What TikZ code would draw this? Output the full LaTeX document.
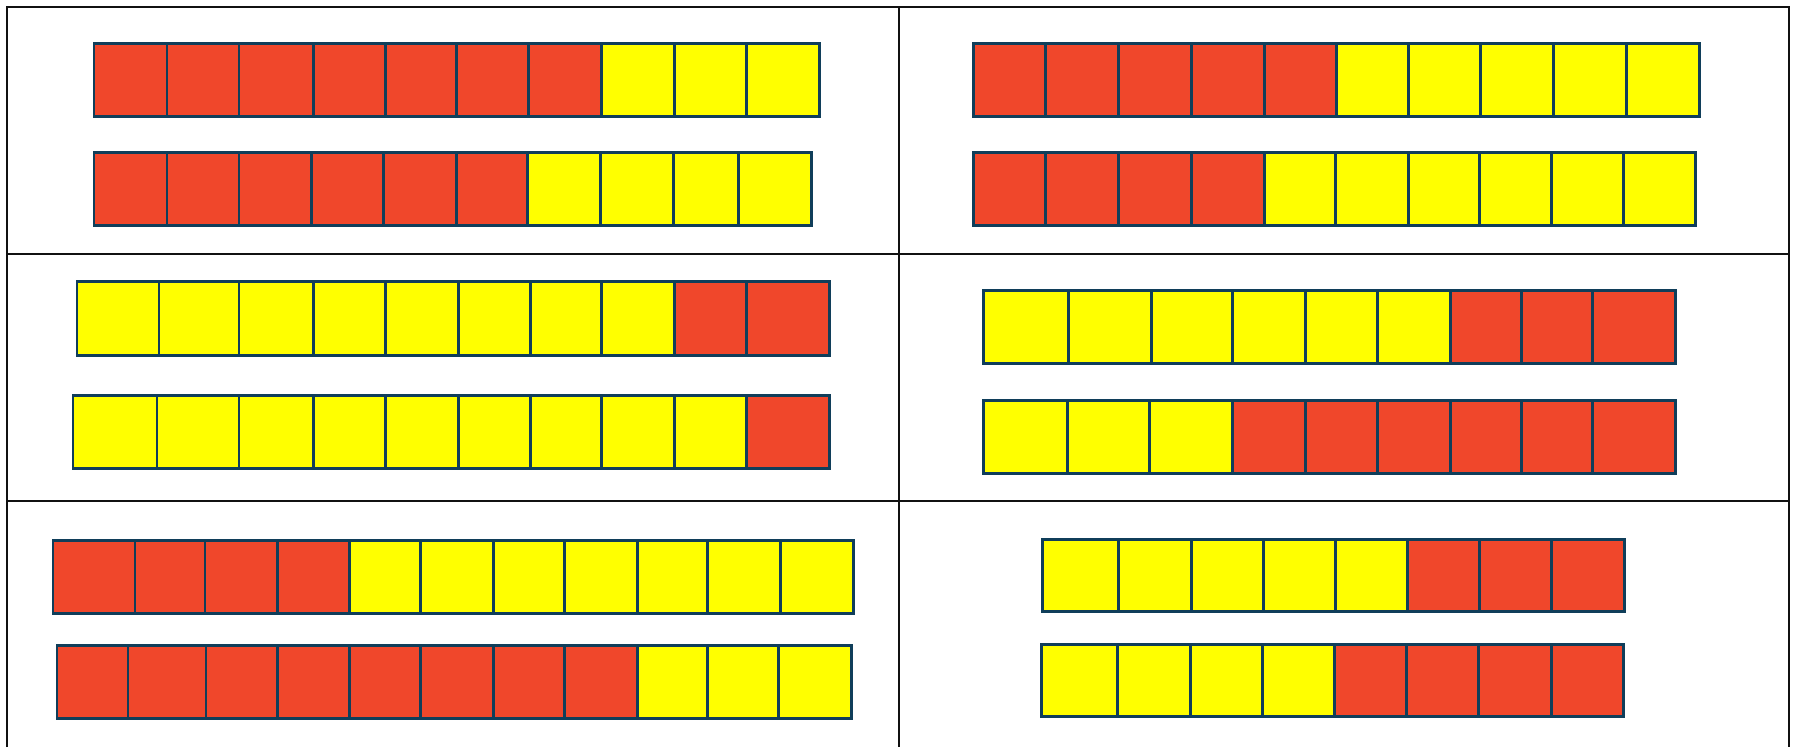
\documentclass[tikz,border=0pt]{standalone}
\usepackage{tikz}
\definecolor{cubeRed}{HTML}{F0472B}
\definecolor{cubeYel}{HTML}{FFFF00}
\definecolor{cubeEdge}{HTML}{103E5A}
\definecolor{gridLine}{HTML}{111111}
\tikzset{
  cube/.style={draw=cubeEdge, line width=0.85pt, line join=miter},
  grid/.style={draw=gridLine, line width=0.65pt},
}
% one row of cubes: start x, top y, bottom y, list of right edge/colour
\newcommand{\cuberow}[4]{%
  \foreach \xb/\cubecol [remember=\xb as \xa (initially #1)] in {#4} {
    \draw[cube, fill=\cubecol] (\xa,#2) rectangle (\xb,#3);
  }%
}

\begin{document}
\begin{tikzpicture}[x=0.01cm, y=-0.01cm]
  \useasboundingbox (0,0) rectangle (1795,747);

  % Table
  \draw[grid] (7,747) -- (7,7) -- (1789,7) -- (1789,747);
  \draw[grid] (899,7) -- (899,747);
  \draw[grid] (7,254) -- (1789,254);
  \draw[grid] (7,501) -- (1789,501);

  % Row 1, left
  \cuberow{94}{43}{116}{167/cubeRed, 239/cubeRed, 313/cubeRed, 385/cubeRed, 456/cubeRed, 528/cubeRed, 601/cubeRed, 674/cubeYel, 746/cubeYel, 819/cubeYel}
  \cuberow{94}{152}{225}{167/cubeRed, 239/cubeRed, 311/cubeRed, 383/cubeRed, 456/cubeRed, 527/cubeRed, 600/cubeYel, 673/cubeYel, 738/cubeYel, 811/cubeYel}

  % Row 1, right
  \cuberow{973}{43}{116}{1045/cubeRed, 1118/cubeRed, 1191/cubeRed, 1264/cubeRed, 1336/cubeRed, 1408/cubeYel, 1480/cubeYel, 1553/cubeYel, 1626/cubeYel, 1699/cubeYel}
  \cuberow{973}{152}{225}{1045/cubeRed, 1118/cubeRed, 1191/cubeRed, 1264/cubeRed, 1335/cubeYel, 1408/cubeYel, 1479/cubeYel, 1551/cubeYel, 1623/cubeYel, 1695/cubeYel}

  % Row 2, left
  \cuberow{77}{281}{355}{159/cubeYel, 239/cubeYel, 313/cubeYel, 385/cubeYel, 458/cubeYel, 530/cubeYel, 601/cubeYel, 674/cubeYel, 746/cubeRed, 829/cubeRed}
  \cuberow{73}{395}{468}{157/cubeYel, 239/cubeYel, 313/cubeYel, 385/cubeYel, 458/cubeYel, 530/cubeYel, 601/cubeYel, 674/cubeYel, 746/cubeYel, 829/cubeRed}

  % Row 2, right
  \cuberow{983}{290}{363}{1068/cubeYel, 1151/cubeYel, 1232/cubeYel, 1305/cubeYel, 1377/cubeYel, 1450/cubeYel, 1521/cubeRed, 1592/cubeRed, 1675/cubeRed}
  \cuberow{983}{400}{473}{1067/cubeYel, 1149/cubeYel, 1232/cubeYel, 1305/cubeRed, 1377/cubeRed, 1450/cubeRed, 1521/cubeRed, 1592/cubeRed, 1675/cubeRed}

  % Row 3, left
  \cuberow{53}{540}{613}{135/cubeRed, 205/cubeRed, 277/cubeRed, 349/cubeRed, 420/cubeYel, 493/cubeYel, 564/cubeYel, 637/cubeYel, 707/cubeYel, 780/cubeYel, 853/cubeYel}
  \cuberow{57}{645}{718}{128/cubeRed, 206/cubeRed, 277/cubeRed, 349/cubeRed, 420/cubeRed, 493/cubeRed, 564/cubeRed, 637/cubeRed, 707/cubeYel, 778/cubeYel, 851/cubeYel}

  % Row 3, right
  \cuberow{1042}{539}{611}{1118/cubeYel, 1191/cubeYel, 1263/cubeYel, 1335/cubeYel, 1407/cubeYel, 1479/cubeRed, 1551/cubeRed, 1624/cubeRed}
  \cuberow{1041}{644}{716}{1117/cubeYel, 1190/cubeYel, 1262/cubeYel, 1334/cubeYel, 1406/cubeRed, 1478/cubeRed, 1551/cubeRed, 1623/cubeRed}

\end{tikzpicture}
\end{document}
